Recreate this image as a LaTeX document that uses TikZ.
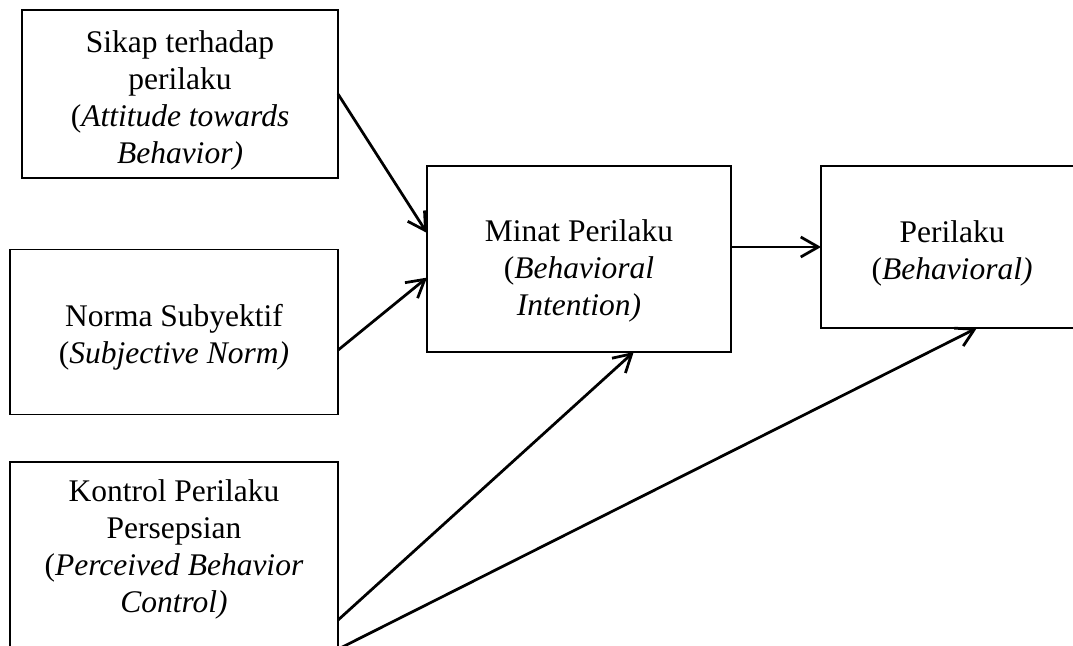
\documentclass[tikz,border=0pt]{standalone}
\usepackage{fontspec}
\setmainfont{Liberation Serif}
\usetikzlibrary{arrows.meta, calc}

\tikzset{
  konstruk/.style={draw, line width=0.5pt, inner sep=0pt, outer sep=0pt,
    align=center, font=\fontsize{12.6}{14.8}\selectfont},
  turun/.style={execute at begin node={\rule{0pt}{#1}}},
  naik/.style={execute at end node={\rule[-#1]{0pt}{0pt}}},
  panah/.style={line width=1.1pt, -{Straight Barb[length=7pt, width=8pt, line width=1.1pt]}}
}

\begin{document}
\begin{tikzpicture}[x=0.4pt, y=-0.4pt]
        \clip (0,0) rectangle (1073,646);
        % variabel
        \node[konstruk, turun=58.6pt, minimum width=126.4pt, minimum height=67.2pt] (sikap) at (180,94)
          {Sikap terhadap\\ perilaku\\ (\textit{Attitude towards}\\ \textit{Behavior)}};
        \node[konstruk, turun=28.2pt, minimum width=131.2pt, minimum height=66pt] (norma) at (174,332)
          {Norma Subyektif\\ (\textit{Subjective Norm)}};
        \node[konstruk, naik=16.3pt, minimum width=131.2pt, minimum height=83.2pt] (kontrol) at (174,566)
          {Kontrol Perilaku\\ Persepsian\\ (\textit{Perceived Behavior}\\ \textit{Control)}};
        \node[konstruk, turun=47.8pt, minimum width=121.6pt, minimum height=74.4pt] (minat) at (579,259)
          {Minat Perilaku\\ (\textit{Behavioral}\\ \textit{Intention)}};
        \node[konstruk, turun=29pt, minimum width=104.8pt, minimum height=64.8pt] (perilaku) at (952,247)
          {Perilaku\\ (\textit{Behavioral)}};
        % hubungan
        \draw[panah] (sikap.east) -- ($(minat.north west)!0.36!(minat.south west)$);
        \draw[panah] ($(norma.north east)!0.61!(norma.south east)$) -- ($(minat.north west)!0.6!(minat.south west)$);
        \draw[panah] ($(kontrol.north east)!0.76!(kontrol.south east)$) -- ($(minat.south west)!0.68!(minat.south east)$);
        \draw[panah] ($(kontrol.north east)!0.9!(kontrol.south east)$) -- ($(perilaku.south west)!0.595!(perilaku.south east)$);
        \draw[panah] (minat.east |- perilaku.west) -- (perilaku.west);
      \end{tikzpicture}
\end{document}
